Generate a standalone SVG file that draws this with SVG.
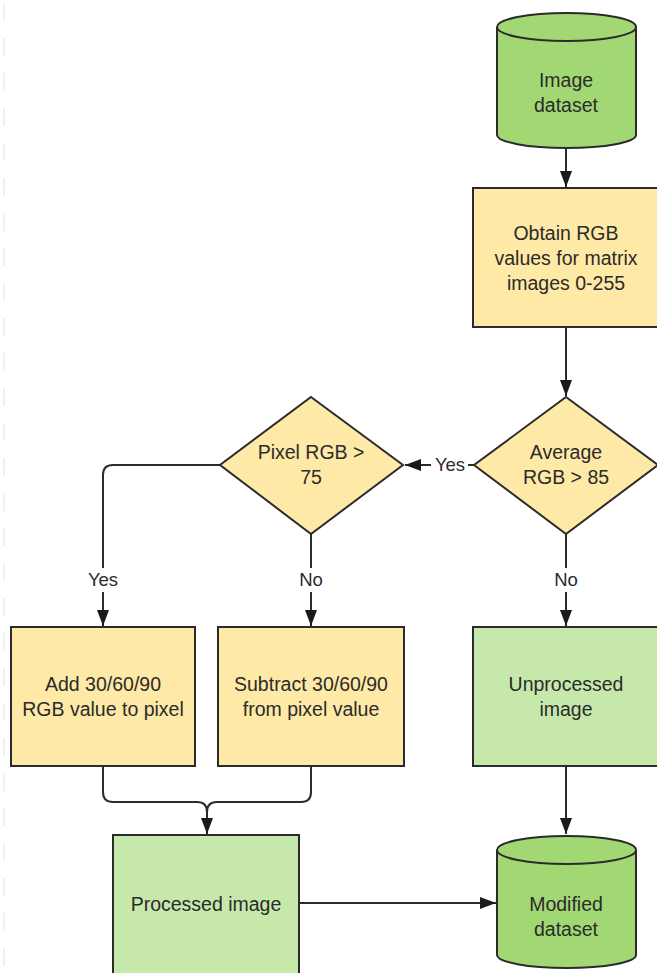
<svg xmlns="http://www.w3.org/2000/svg" width="657" height="973" viewBox="0 0 657 973">
<style>
  .proc { fill: #FFE9A6; stroke: #2b2b2b; stroke-width: 2; }
  .out { fill: #C6E8AA; stroke: #2b2b2b; stroke-width: 2; }
  .db { fill: #A2D874; stroke: #2b2b2b; stroke-width: 2; }
  .conn { fill: none; stroke: #2b2b2b; stroke-width: 2; }
  text { font-family: "Liberation Sans", Arial, sans-serif; font-size: 19.5px; fill: #2b2b2b; text-anchor: middle; }
  .lbl { font-size: 18.5px; }
</style>
<defs>
  <marker id="arr" viewBox="0 0 16 12" refX="16" refY="6" markerWidth="16" markerHeight="12" markerUnits="userSpaceOnUse" orient="auto">
    <path d="M0,0 L16,6 L0,12 Z" fill="#1a1a1a"/>
  </marker>
</defs>
<rect width="657" height="973" fill="#ffffff"/>
<line x1="4" y1="3" x2="4" y2="973" stroke="#ebebeb" stroke-width="1.5" stroke-dasharray="18 17"/>

<g id="connectors">
  <path class="conn" d="M566,148 L566,187" marker-end="url(#arr)"/>
  <path class="conn" d="M566,327 L566,396" marker-end="url(#arr)"/>
  <path class="conn" d="M474,465 L405,465" marker-end="url(#arr)"/>
  <path class="conn" d="M220,465 L113,465 Q103,465 103,475 L103,626" marker-end="url(#arr)"/>
  <path class="conn" d="M311,534 L311,626" marker-end="url(#arr)"/>
  <path class="conn" d="M566,534 L566,626" marker-end="url(#arr)"/>
  <path class="conn" d="M103,766 L103,792 Q103,802 113,802 L197,802 Q207,802 207,812 L207,834" marker-end="url(#arr)"/>
  <path class="conn" d="M311,766 L311,792 Q311,802 301,802 L217,802 Q207,802 207,812"/>
  <path class="conn" d="M566,766 L566,834" marker-end="url(#arr)"/>
  <path class="conn" d="M299,903 L496,903" marker-end="url(#arr)"/>
  <rect x="431" y="454" width="37" height="22" fill="#ffffff"/>
  <text class="lbl" x="450" y="471">Yes</text>
  <rect x="84" y="568" width="38" height="24" fill="#ffffff"/>
  <text class="lbl" x="103" y="586">Yes</text>
  <rect x="297" y="568" width="28" height="24" fill="#ffffff"/>
  <text class="lbl" x="311" y="586">No</text>
  <rect x="552" y="568" width="28" height="24" fill="#ffffff"/>
  <text class="lbl" x="566" y="586">No</text>
</g>

<g id="image-dataset">
  <path class="db" d="M497,27 A69.5,14 0 0 1 636,27 L636,135 A69.5,13 0 0 1 497,135 Z"/>
  <path class="conn" d="M497,27 A69.5,14 0 0 0 636,27"/>
  <text x="566" y="87">Image</text>
  <text x="566" y="112">dataset</text>
</g>

<g id="obtain-rgb">
  <rect class="proc" x="473" y="188" width="186" height="139"/>
  <text x="566" y="240">Obtain RGB</text>
  <text x="566" y="265">values for matrix</text>
  <text x="566" y="290">images 0-255</text>
</g>

<g id="average-rgb">
  <path class="proc" d="M566,397 L658,465 L566,534 L474,465 Z"/>
  <text x="566" y="459">Average</text>
  <text x="566" y="484">RGB &gt; 85</text>
</g>

<g id="pixel-rgb">
  <path class="proc" d="M311,397 L403,465 L311,534 L220,465 Z"/>
  <text x="311" y="459">Pixel RGB &gt;</text>
  <text x="311" y="484">75</text>
</g>

<g id="add">
  <rect class="proc" x="11" y="627" width="184" height="139"/>
  <text x="103" y="691">Add 30/60/90</text>
  <text x="103" y="716">RGB value to pixel</text>
</g>

<g id="subtract">
  <rect class="proc" x="218" y="627" width="186" height="139"/>
  <text x="311" y="691">Subtract 30/60/90</text>
  <text x="311" y="716">from pixel value</text>
</g>

<g id="unprocessed">
  <rect class="out" x="473" y="627" width="186" height="139"/>
  <text x="566" y="691">Unprocessed</text>
  <text x="566" y="716">image</text>
</g>

<g id="processed">
  <rect class="out" x="113" y="835" width="186" height="145"/>
  <text x="206" y="911">Processed image</text>
</g>

<g id="modified-dataset">
  <path class="db" d="M497,850 A69.5,14 0 0 1 636,850 L636,955 A69.5,13 0 0 1 497,955 Z"/>
  <path class="conn" d="M497,850 A69.5,14 0 0 0 636,850"/>
  <text x="566" y="911">Modified</text>
  <text x="566" y="936">dataset</text>
</g>
</svg>
